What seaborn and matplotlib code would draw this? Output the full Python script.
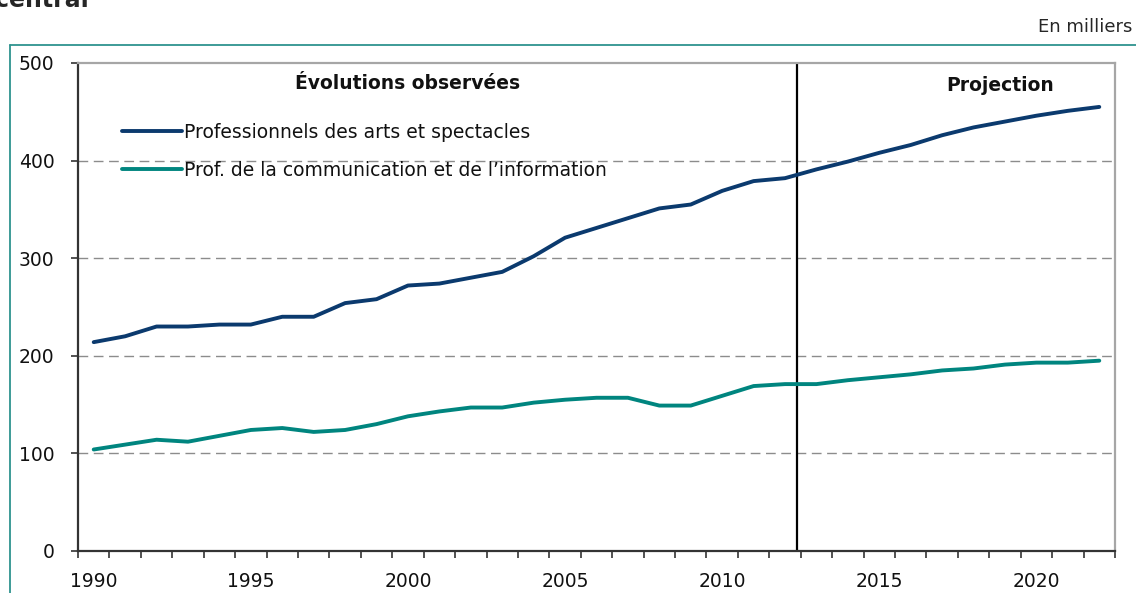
import pandas as pd
import seaborn as sns
from matplotlib import pyplot as plt
from matplotlib.lines import Line2D

years = list(range(1990, 2023))
arts = [214, 220, 230, 230, 232, 232, 240, 240, 254, 258, 272, 274, 280, 286, 302, 321, 331,
        341, 351, 355, 369, 379, 382, 391, 399, 408, 416, 426, 434, 440, 446, 451, 455]
comm = [104, 109, 114, 112, 118, 124, 126, 122, 124, 130, 138, 143, 147, 147, 152, 155, 157,
        157, 149, 149, 159, 169, 171, 171, 175, 178, 181, 185, 187, 191, 193, 193, 195]
labels = ["Professionnels des arts et spectacles",
          "Prof. de la communication et de l\u2019information"]
yticks = [0, 100, 200, 300, 400, 500]
xticks = [1990, 1995, 2000, 2005, 2010, 2015, 2020]
split_year = 2012.38

navy = "#0b3a6e"
teal = "#00857f"

df = pd.DataFrame({
    "annee": years * 2,
    "effectif": arts + comm,
    "serie": [labels[0]] * len(years) + [labels[1]] * len(years),
})

sns.set_style("white")
plt.rcParams["font.family"] = ["DejaVu Sans"]

fig = plt.figure(figsize=(11.36, 5.93), dpi=100)
ax = fig.add_axes([78 / 1136, 1 - 551 / 593, (1115 - 78) / 1136, (551 - 63) / 593])

sns.lineplot(data=df, x="annee", y="effectif", hue="serie", palette=[navy, teal],
             linewidth=2.8, legend=False, ax=ax)

ax.set_xlim(1989.5, 2022.5)
ax.set_ylim(0, 500)
ax.set_xlabel("")
ax.set_ylabel("")

# grid
for v in yticks[1:-1]:
    ax.axhline(v, color="#8c8c8c", lw=1, ls=(0, (7, 4)), zorder=0)
ax.axvline(split_year, color="black", lw=1.6, zorder=1)

# ticks
ax.set_yticks(yticks)
ax.set_xticks(xticks)
ax.set_xticks([y - 0.5 for y in years] + [years[-1] + 0.5], minor=True)
ax.tick_params(axis="x", which="major", length=0, pad=15, labelsize=13.5, colors="#111111")
ax.tick_params(axis="x", which="minor", length=5, width=1.2, direction="out", color="#333333", bottom=True)
ax.tick_params(axis="y", length=5, width=1.2, direction="out", pad=12, labelsize=13.5,
               color="#333333", left=True, labelcolor="#111111")

for s in ["left", "bottom"]:
    ax.spines[s].set_color("#333333")
    ax.spines[s].set_linewidth(1.6)
for s in ["top", "right"]:
    ax.spines[s].set_color("#a6a6a6")
    ax.spines[s].set_linewidth(1.6)

leg = ax.legend(handles=ax.lines[:2], labels=labels, loc="upper left",
                bbox_to_anchor=(0.035, 0.893), frameon=False, fontsize=13.5,
                handlelength=3.2, handletextpad=0.1, labelspacing=1.02, borderaxespad=0)
for t in leg.get_texts():
    t.set_color("#111111")

ax.text(0.318, 0.957, "\u00c9volutions observ\u00e9es", transform=ax.transAxes,
        ha="center", va="center", fontsize=13.5, fontweight="bold", color="#111111")
ax.text(0.889, 0.953, "Projection", transform=ax.transAxes,
        ha="center", va="center", fontsize=13.5, fontweight="bold", color="#111111")

fig.text(1132 / 1136, 1 - 27 / 593, "En milliers", ha="right", va="center", fontsize=13)
fig.text(-0.004, 1 - 7 / 593, "central", ha="left", va="baseline", fontsize=17, fontweight="bold")

# outer frame
fx, fy = 10 / 1136, 1 - 45 / 593
fig.add_artist(Line2D([fx, fx], [-0.1, fy], transform=fig.transFigure, color="#2e938f", lw=1.3))
fig.add_artist(Line2D([fx, 1.1], [fy, fy], transform=fig.transFigure, color="#2e938f", lw=1.3))

plt.savefig("out.png", dpi=100)
plt.close()
